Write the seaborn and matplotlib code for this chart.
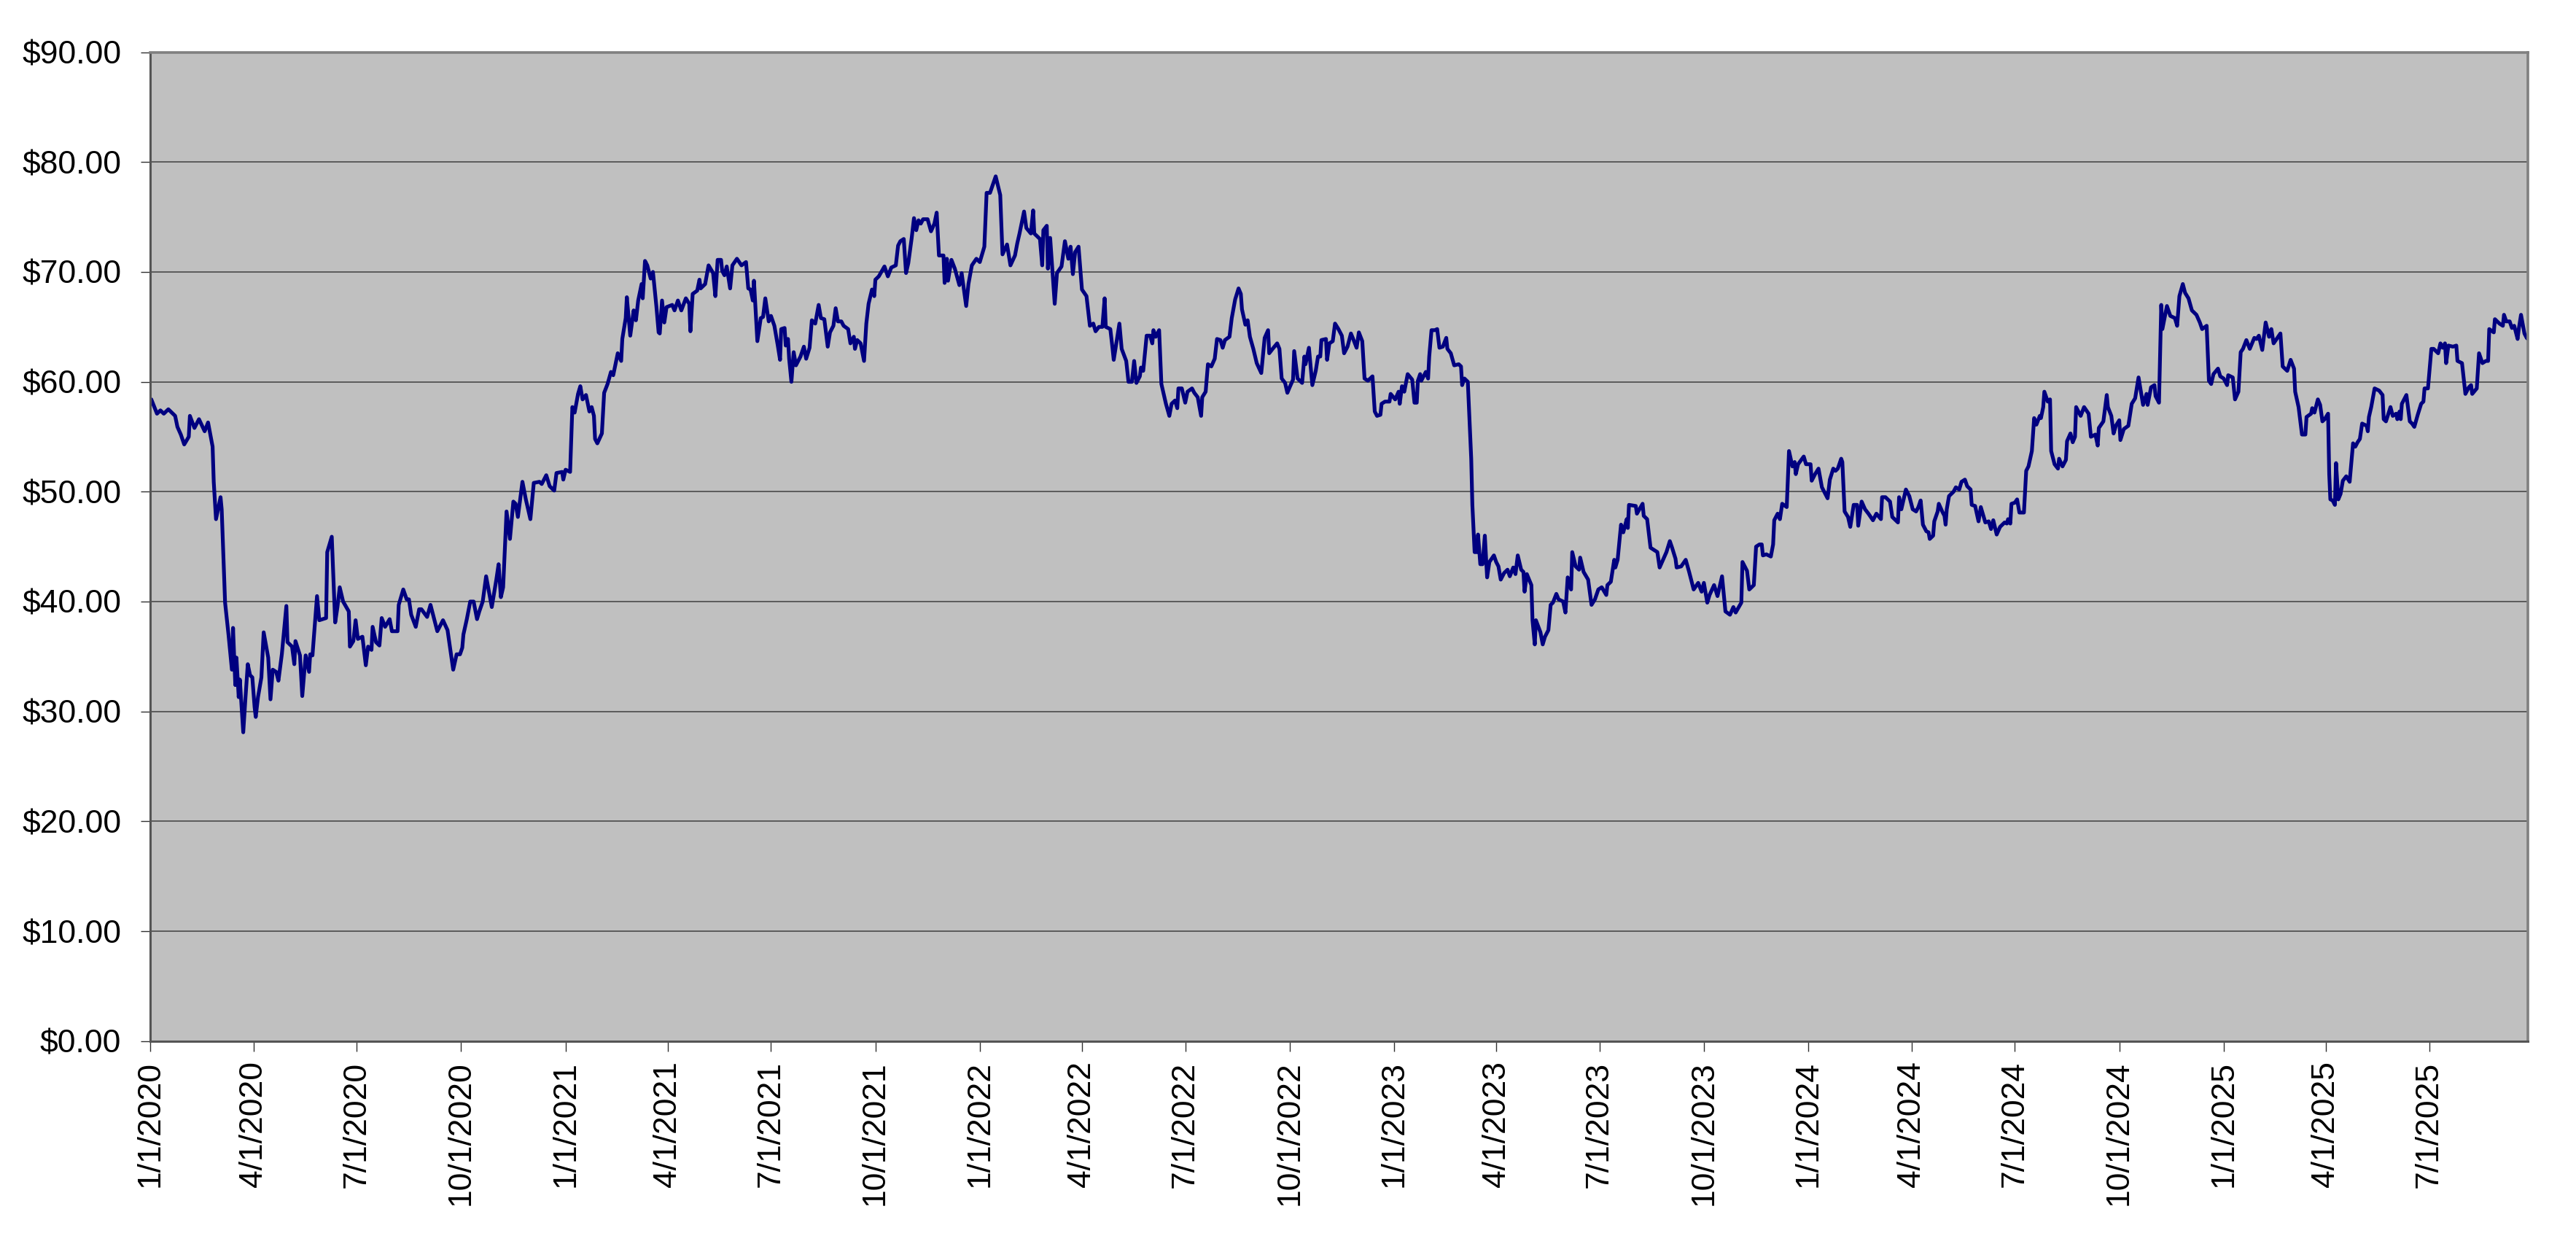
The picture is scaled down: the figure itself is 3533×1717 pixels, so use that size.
import pandas as pd
import seaborn as sns
import matplotlib
matplotlib.use('Agg')
from matplotlib import pyplot as plt
import matplotlib.dates as mdates
from matplotlib.ticker import FixedLocator, FuncFormatter, MultipleLocator

# closing prices: (days since 1/1/2020, price in $)
prices_2020 = [
    (1, 58.4), (6, 57.1), (9, 57.4), (12, 57.1), (16, 57.5), (22, 56.9), (24, 55.9), (27, 55.2),
    (30, 54.3), (34, 55.0), (35, 56.9), (39, 55.8), (43, 56.6), (48, 55.5), (51, 56.3), (55, 54.1),
    (56, 50.9), (58, 47.5), (62, 49.5), (63, 48.4), (66, 39.9), (69, 37.0), (72, 33.8), (73, 37.6),
    (75, 32.4), (76, 34.9), (78, 31.3), (79, 32.9), (82, 28.1), (84, 31.3), (86, 34.3), (88, 33.3),
    (90, 33.1), (92, 30.4), (93, 29.5), (95, 31.3), (98, 33.1), (100, 37.2), (104, 34.9), (106, 31.1),
    (108, 33.8), (111, 33.6), (113, 32.8), (116, 35.2), (120, 39.6), (121, 36.3), (125, 35.9), (127, 34.3),
    (128, 36.4), (132, 35.1), (134, 31.4), (137, 35.1), (140, 33.6), (141, 35.2), (143, 35.1), (147, 40.5),
    (149, 38.3), (155, 38.5), (156, 44.5), (160, 45.9), (163, 38.1), (165, 39.5), (167, 41.3), (170, 40.0),
    (175, 39.1), (176, 35.9), (179, 36.4), (181, 38.3), (183, 36.6), (187, 36.8), (190, 34.2), (192, 35.9),
    (195, 35.6), (196, 37.7), (199, 36.3), (202, 36.0), (204, 38.5), (207, 37.7), (211, 38.4), (213, 37.3),
    (218, 37.3), (219, 39.7), (223, 41.1), (226, 40.2), (228, 40.2), (230, 38.8), (234, 37.7), (237, 39.3),
    (239, 39.3), (244, 38.6), (247, 39.7), (253, 37.3), (258, 38.3), (262, 37.4), (267, 33.8), (270, 35.2),
    (273, 35.2), (275, 35.8), (276, 37.0), (279, 38.4), (282, 40.0), (285, 40.0), (288, 38.4), (290, 39.1),
    (293, 40.0), (296, 42.3), (301, 39.5), (305, 42.0), (307, 43.4), (309, 40.4), (311, 41.3), (314, 48.2),
    (317, 45.7), (320, 49.1), (322, 48.9), (324, 47.7), (328, 50.9), (331, 49.3), (335, 47.5), (338, 50.8),
    (343, 50.9), (345, 50.7), (349, 51.5), (352, 50.5), (356, 50.1), (358, 51.7), (363, 51.8), (364, 51.1),
]

prices_2021 = [
    (366, 52.0), (370, 51.8), (372, 57.7), (374, 57.2), (377, 58.9), (379, 59.6), (381, 58.4), (384, 58.8),
    (387, 57.3), (389, 57.7), (391, 56.9), (392, 54.8), (394, 54.4), (398, 55.3), (400, 59.0), (403, 59.8),
    (406, 60.9), (408, 60.6), (412, 62.6), (415, 61.9), (416, 63.9), (419, 65.8), (420, 67.7), (423, 64.2),
    (426, 66.5), (428, 65.6), (430, 67.4), (433, 68.9), (434, 67.6), (436, 71.0), (438, 70.6), (441, 69.4),
    (443, 70.0), (446, 66.9), (448, 64.5), (449, 64.4), (451, 67.4), (453, 65.4), (455, 66.8), (460, 67.0),
    (462, 66.5), (465, 67.4), (468, 66.5), (472, 67.6), (475, 67.1), (476, 64.6), (478, 68.0), (482, 68.3),
    (484, 69.3), (485, 68.5), (489, 68.9), (492, 70.6), (496, 69.9), (498, 67.8), (500, 71.1), (503, 71.1),
    (504, 70.1), (506, 69.7), (508, 70.5), (511, 68.5), (513, 70.6), (517, 71.2), (521, 70.6), (525, 70.9),
    (527, 68.5), (529, 68.4), (531, 67.4), (532, 69.2), (535, 63.7), (538, 65.8), (540, 65.9), (542, 67.6),
    (545, 65.5), (547, 66.0), (550, 65.1), (553, 63.3), (555, 62.0), (556, 64.8), (559, 64.9), (560, 63.3),
    (562, 63.9), (563, 62.1), (565, 60.0), (567, 62.7), (569, 61.5), (573, 62.3), (576, 63.2), (578, 62.1),
    (581, 63.1), (583, 65.6), (586, 65.3), (589, 67.0), (591, 65.8), (594, 65.7), (597, 63.2), (599, 64.5),
    (602, 65.1), (604, 66.7), (606, 65.5), (609, 65.5), (611, 65.1), (615, 64.8), (617, 63.5), (620, 64.1),
    (621, 63.0), (623, 63.8), (626, 63.5), (629, 61.9), (631, 65.3), (633, 67.1), (636, 68.4), (638, 67.8),
    (639, 69.3), (642, 69.6), (647, 70.5), (650, 69.6), (653, 70.4), (657, 70.6), (659, 72.4), (661, 72.8),
    (664, 73.0), (666, 69.9), (668, 70.8), (671, 73.1), (673, 74.9), (675, 73.8), (677, 74.7), (679, 74.4),
    (681, 74.8), (685, 74.8), (688, 73.7), (691, 74.4), (693, 75.4), (695, 71.5), (699, 71.5), (700, 69.0),
    (702, 71.2), (703, 69.2), (706, 71.1), (709, 70.3), (713, 68.8), (715, 69.9), (719, 66.9), (721, 68.9),
    (724, 70.6), (728, 71.2),
]

prices_2022 = [
    (731, 70.9), (735, 72.3), (737, 77.2), (740, 77.2), (745, 78.7), (749, 77.0), (751, 71.6), (755, 72.5),
    (758, 70.6), (762, 71.5), (764, 72.6), (766, 73.5), (770, 75.5), (772, 74.0), (776, 73.5), (778, 75.6),
    (779, 73.5), (784, 73.0), (786, 70.6), (787, 73.8), (790, 74.2), (791, 70.3), (793, 73.1), (797, 67.1),
    (799, 69.9), (803, 70.5), (806, 72.8), (809, 71.2), (811, 72.3), (813, 69.8), (815, 71.8), (818, 72.3),
    (821, 68.4), (825, 67.8), (828, 65.1), (831, 65.3), (833, 64.6), (836, 65.0), (839, 65.0), (841, 67.6),
    (842, 65.0), (846, 64.8), (848, 63.0), (849, 62.0), (854, 65.3), (856, 63.0), (860, 61.9), (862, 60.0),
    (865, 60.0), (867, 61.9), (869, 59.9), (872, 60.5), (873, 61.3), (875, 61.0), (878, 64.2), (881, 64.2),
    (883, 63.5), (884, 64.7), (886, 64.1), (889, 64.7), (891, 59.8), (895, 58.0), (898, 56.9), (900, 58.0),
    (903, 58.3), (905, 57.6), (906, 59.4), (909, 59.4), (912, 58.1), (914, 59.1), (918, 59.4), (920, 59.0),
    (923, 58.6), (926, 56.9), (927, 58.6), (930, 59.1), (932, 61.6), (935, 61.4), (938, 62.1), (940, 63.9),
    (943, 63.8), (945, 63.1), (947, 63.8), (951, 64.1), (953, 65.8), (956, 67.5), (959, 68.5), (961, 68.0),
    (962, 66.6), (965, 65.2), (967, 65.6), (969, 64.1), (972, 63.0), (975, 61.7), (979, 60.8), (982, 64.0),
    (985, 64.7), (986, 62.6), (989, 63.0), (993, 63.5), (995, 63.0), (997, 60.3), (1000, 59.9), (1002, 59.0),
    (1004, 59.5), (1007, 60.2), (1008, 62.8), (1011, 60.3), (1015, 59.9), (1017, 62.3), (1018, 61.6), (1021, 63.1),
    (1024, 59.7), (1027, 61.0), (1029, 62.3), (1031, 62.3), (1032, 63.8), (1036, 63.9), (1037, 62.0), (1039, 63.5),
    (1042, 63.7), (1044, 65.3), (1047, 64.8), (1050, 64.2), (1052, 62.6), (1055, 63.2), (1058, 64.4), (1060, 63.9),
    (1063, 63.1), (1065, 64.5), (1068, 63.7), (1070, 60.3), (1073, 60.1), (1077, 60.5), (1079, 57.3), (1081, 56.9),
    (1084, 57.0), (1085, 58.0), (1088, 58.2), (1092, 58.2), (1093, 58.9),
]

prices_2023 = [
    (1097, 58.4), (1100, 59.1), (1101, 58.0), (1103, 59.6), (1105, 59.1), (1108, 60.7), (1112, 60.2), (1114, 58.1),
    (1116, 58.1), (1117, 60.1), (1119, 60.7), (1120, 60.1), (1124, 60.9), (1126, 60.3), (1127, 62.3), (1129, 64.7),
    (1132, 64.7), (1134, 64.8), (1136, 63.1), (1139, 63.2), (1142, 64.0), (1143, 63.0), (1146, 62.6), (1149, 61.5),
    (1153, 61.6), (1155, 61.4), (1156, 59.7), (1158, 60.3), (1161, 60.0), (1162, 57.7), (1164, 53.0), (1165, 48.8),
    (1167, 44.5), (1169, 44.5), (1170, 46.1), (1172, 43.4), (1174, 43.4), (1176, 46.0), (1178, 42.2), (1180, 43.6),
    (1184, 44.2), (1186, 43.6), (1188, 43.2), (1190, 42.0), (1193, 42.6), (1196, 42.9), (1198, 42.3), (1201, 43.1),
    (1203, 42.5), (1205, 44.2), (1208, 42.9), (1210, 42.7), (1211, 40.9), (1213, 42.5), (1217, 41.5), (1218, 38.3),
    (1220, 36.1), (1221, 38.3), (1225, 37.2), (1227, 36.1), (1229, 36.8), (1232, 37.4), (1234, 39.7), (1236, 39.9),
    (1239, 40.7), (1241, 40.2), (1245, 40.0), (1247, 39.0), (1249, 42.2), (1252, 41.1), (1253, 44.5), (1256, 43.2),
    (1259, 42.9), (1260, 44.0), (1263, 42.7), (1267, 42.0), (1270, 39.7), (1273, 40.2), (1276, 41.1), (1279, 41.3),
    (1283, 40.6), (1284, 41.5), (1287, 41.8), (1290, 43.8), (1291, 43.1), (1293, 43.8), (1296, 47.0), (1298, 46.3),
    (1301, 47.5), (1302, 46.7), (1303, 48.8), (1309, 48.7), (1310, 48.0), (1315, 48.9), (1316, 47.8), (1319, 47.5),
    (1322, 44.9), (1328, 44.5), (1330, 43.1), (1333, 43.8), (1336, 44.5), (1339, 45.5), (1341, 44.9), (1344, 43.9),
    (1345, 43.1), (1349, 43.2), (1353, 43.8), (1356, 42.7), (1360, 41.1), (1364, 41.7), (1367, 40.9), (1369, 41.7),
    (1372, 39.9), (1374, 40.6), (1378, 41.5), (1381, 40.5), (1385, 42.3), (1388, 39.1), (1392, 38.8), (1395, 39.5),
    (1397, 39.0), (1402, 39.9), (1403, 43.6), (1407, 42.8), (1409, 41.1), (1413, 41.5), (1415, 45.0), (1418, 45.2),
    (1420, 45.2), (1421, 44.2), (1424, 44.3), (1428, 44.1), (1430, 45.2), (1431, 47.4), (1434, 48.0), (1436, 47.5),
    (1438, 48.9), (1442, 48.6), (1444, 53.7), (1447, 52.3), (1449, 52.7), (1450, 51.6), (1452, 52.5), (1457, 53.2),
    (1459, 52.5),
]

prices_2024 = [
    (1463, 52.5), (1464, 51.0), (1467, 51.6), (1470, 52.1), (1473, 50.4), (1478, 49.4), (1480, 51.1), (1483, 52.1),
    (1485, 51.9), (1487, 52.1), (1490, 53.0), (1491, 52.7), (1493, 48.2), (1496, 47.7), (1498, 46.8), (1501, 48.8),
    (1504, 48.8), (1505, 46.9), (1508, 49.1), (1511, 48.4), (1514, 48.0), (1518, 47.4), (1521, 48.0), (1525, 47.5),
    (1526, 49.5), (1529, 49.5), (1533, 49.1), (1535, 47.7), (1537, 47.5), (1540, 47.2), (1541, 49.5), (1543, 48.4),
    (1547, 50.2), (1550, 49.6), (1553, 48.4), (1556, 48.2), (1558, 48.6), (1560, 49.2), (1562, 47.0), (1565, 46.4),
    (1567, 46.3), (1568, 45.7), (1571, 46.0), (1572, 47.3), (1575, 48.2), (1576, 48.9), (1579, 48.2), (1581, 47.8),
    (1582, 47.0), (1583, 48.4), (1585, 49.6), (1589, 50.0), (1591, 50.4), (1594, 50.2), (1596, 50.9), (1599, 51.1),
    (1601, 50.5), (1604, 50.2), (1605, 48.8), (1608, 48.7), (1611, 47.3), (1613, 48.6), (1615, 47.9), (1617, 47.2),
    (1620, 47.3), (1622, 46.6), (1624, 47.4), (1627, 46.1), (1630, 46.8), (1634, 47.2), (1636, 47.1), (1637, 47.5),
    (1639, 47.1), (1640, 48.9), (1643, 49.0), (1645, 49.3), (1647, 48.1), (1651, 48.1), (1653, 51.9), (1655, 52.3),
    (1658, 53.7), (1660, 56.7), (1662, 56.1), (1665, 56.9), (1666, 56.7), (1668, 57.7), (1669, 59.1), (1672, 58.2),
    (1674, 58.4), (1675, 53.7), (1678, 52.5), (1681, 52.1), (1682, 53.0), (1685, 52.3), (1688, 52.9), (1689, 54.6),
    (1692, 55.3), (1694, 54.5), (1696, 55.0), (1697, 57.7), (1701, 56.9), (1704, 57.7), (1708, 57.1), (1710, 55.0),
    (1714, 55.2), (1716, 54.2), (1717, 55.8), (1721, 56.4), (1724, 58.8), (1725, 57.7), (1728, 56.9), (1730, 55.3),
    (1732, 56.0), (1735, 56.5), (1736, 54.7), (1739, 55.7), (1743, 56.0), (1746, 58.0), (1749, 58.5), (1752, 60.4),
    (1756, 57.9), (1759, 58.9), (1760, 57.9), (1763, 59.5), (1766, 59.7), (1767, 58.7), (1770, 58.1), (1772, 67.0),
    (1773, 64.8), (1777, 66.9), (1780, 66.0), (1784, 65.8), (1786, 65.1), (1788, 67.8), (1791, 68.9), (1793, 68.1),
    (1796, 67.6), (1799, 66.5), (1803, 66.1), (1806, 65.4), (1808, 64.8), (1812, 65.1), (1814, 60.1), (1816, 59.8),
    (1818, 60.7), (1822, 61.2), (1824, 60.5),
]

prices_2025 = [
    (1827, 60.3), (1830, 59.7), (1831, 60.6), (1835, 60.4), (1837, 58.4), (1840, 59.1), (1842, 62.7), (1844, 63.0),
    (1847, 63.8), (1850, 63.0), (1854, 64.0), (1856, 63.9), (1858, 64.2), (1861, 62.9), (1864, 65.4), (1867, 64.1),
    (1869, 64.8), (1871, 63.5), (1877, 64.4), (1879, 61.4), (1883, 61.0), (1886, 62.0), (1889, 61.2), (1890, 59.1),
    (1893, 57.7), (1896, 55.2), (1899, 55.2), (1900, 56.8), (1904, 57.1), (1905, 57.6), (1907, 57.2), (1910, 58.4),
    (1912, 57.9), (1914, 56.4), (1916, 56.6), (1919, 57.1), (1920, 51.6), (1921, 49.3), (1923, 49.2), (1925, 48.8),
    (1926, 52.6), (1928, 49.3), (1930, 49.8), (1932, 51.0), (1935, 51.4), (1938, 50.9), (1941, 54.4), (1943, 54.1),
    (1945, 54.5), (1947, 54.8), (1949, 56.2), (1953, 56.0), (1954, 55.5), (1955, 56.8), (1957, 57.7), (1960, 59.4),
    (1964, 59.2), (1967, 58.8), (1968, 56.6), (1970, 56.4), (1974, 57.7), (1976, 56.9), (1979, 57.1), (1980, 56.6),
    (1982, 57.3), (1983, 56.6), (1984, 58.0), (1988, 58.8), (1991, 56.4), (1993, 56.2), (1995, 55.9), (1998, 57.0),
    (2001, 58.0), (2003, 58.2), (2004, 59.4), (2007, 59.4), (2010, 63.0), (2012, 63.0), (2016, 62.6), (2018, 63.5),
    (2020, 63.1), (2022, 63.5), (2023, 61.7), (2025, 63.3), (2029, 63.2), (2032, 63.3), (2033, 61.9), (2037, 61.7),
    (2040, 58.9), (2043, 59.5), (2045, 59.7), (2046, 58.9), (2050, 59.4), (2052, 62.6), (2055, 61.7), (2058, 61.9),
    (2060, 61.9), (2061, 64.8), (2065, 64.5), (2066, 65.7), (2070, 65.3), (2073, 65.1), (2074, 66.1), (2076, 65.5),
    (2079, 65.5), (2081, 64.9), (2083, 65.1), (2086, 63.9), (2087, 64.8), (2089, 66.1), (2092, 64.4), (2094, 64.0),
    (2095, 63.9),
]

quarter_labels = [
    '1/1/2020', '4/1/2020', '7/1/2020', '10/1/2020',
    '1/1/2021', '4/1/2021', '7/1/2021', '10/1/2021',
    '1/1/2022', '4/1/2022', '7/1/2022', '10/1/2022',
    '1/1/2023', '4/1/2023', '7/1/2023', '10/1/2023',
    '1/1/2024', '4/1/2024', '7/1/2024', '10/1/2024',
    '1/1/2025', '4/1/2025', '7/1/2025',
]

start_date = pd.Timestamp('2020-01-01')
end_date = pd.Timestamp('2025-09-26')

rows = prices_2020 + prices_2021 + prices_2022 + prices_2023 + prices_2024 + prices_2025
df = pd.DataFrame(rows, columns=['day', 'price'])
df['date'] = start_date + pd.to_timedelta(df['day'], unit='D')

sns.set_theme(style='white')
plt.rcParams['font.family'] = ['Liberation Sans', 'DejaVu Sans']

fig = plt.figure(figsize=(35.33, 17.17), dpi=100)
ax = fig.add_axes([0.0583, 0.1685, 0.9230, 0.7898])
ax.set_facecolor('#c0c0c0')

sns.lineplot(data=df, x='date', y='price', color='#000080', linewidth=3.7,
             estimator=None, sort=False, ax=ax)

ax.set_ylim(0, 90)
ax.yaxis.set_major_locator(MultipleLocator(10))
ax.yaxis.set_major_formatter(FuncFormatter(lambda v, p: f'${v:.2f}'))
ax.grid(axis='y', color='#4a4a4a', linewidth=1.2)
ax.grid(axis='x', visible=False)
ax.set_axisbelow(True)

tick_dates = pd.to_datetime(quarter_labels, format='%m/%d/%Y')
ax.set_xlim(mdates.date2num(start_date), mdates.date2num(end_date))
ax.xaxis.set_major_locator(FixedLocator(mdates.date2num(tick_dates)))
ax.set_xticklabels(quarter_labels)

ax.tick_params(axis='y', left=True, direction='out', length=9.5, width=1.0, color='#303030',
               pad=19, labelsize=32, labelcolor='black')
ax.tick_params(axis='x', bottom=True, direction='out', length=10, width=1.0, color='#303030',
               pad=10, labelsize=32, labelcolor='black', labelrotation=90)

for side in ['top', 'right']:
    ax.spines[side].set_color('#808080')
    ax.spines[side].set_linewidth(2.6)
for side in ['left', 'bottom']:
    ax.spines[side].set_color('#555555')
    ax.spines[side].set_linewidth(2.2)

ax.set_xlabel('')
ax.set_ylabel('')

fig.savefig('out.png', dpi=100)
